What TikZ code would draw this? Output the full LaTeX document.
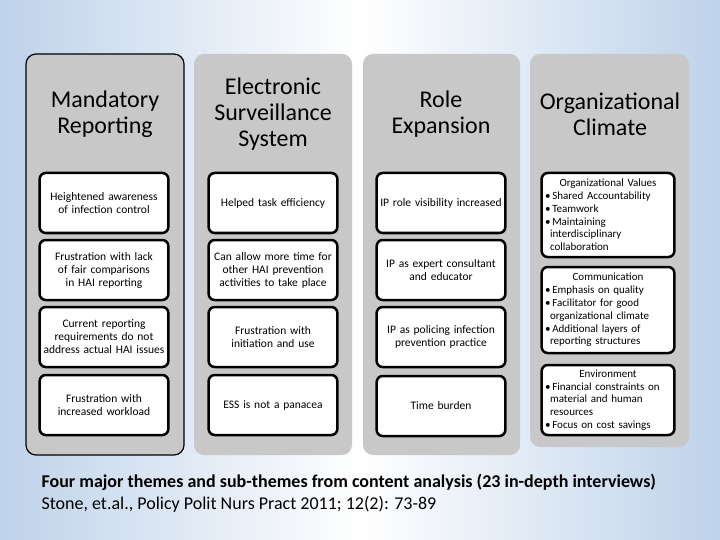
\documentclass[tikz,border=0pt]{standalone}
\usepackage{fontspec}
\usepackage[none]{hyphenat}
\setmainfont{Carlito}
\definecolor{bgblue}{RGB}{190,210,234}
\definecolor{colgray}{RGB}{200,200,200}
\begin{document}
\begin{tikzpicture}[x=1pt,y=-1pt,
    column/.style={fill=colgray, rounded corners=10pt},
    head/.style={align=center, font=\fontsize{24}{26}\selectfont},
    sub/.style={draw, line width=2.5pt, fill=white, rounded corners=6pt, minimum width=126pt, align=center, text width=122pt, font=\fontsize{11.5}{13}\selectfont},
    lst/.style={sub, align=left, text width=126pt, font=\fontsize{11}{12.8}\selectfont}]
    % Hintergrund
    \shade[left color=bgblue, right color=bgblue, middle color=white] (0,0) rectangle (720,540);
    \useasboundingbox (0,0) rectangle (720,540);

    % Spalten
    \draw[column, draw=black, line width=1.2pt] (26,54) rectangle (184,455);
    \fill[column] (194,54) rectangle (352,455);
    \fill[column] (363,54) rectangle (520,455);
    \fill[column] (530,54) rectangle (689,447);

    % Themen
    \node[head] (h1) at (105,114) {Mandatory\\Reporting};
    \node[head] (h2) at (273,114) {Electronic\\Surveillance\\System};
    \node[head] (h3) at (441,114) {Role\\Expansion};
    \node[head] (h4) at (610,114) {Organizational\\Climate};

    % Subthemen
    \node[sub, minimum height=60pt] (m1) at (104,203) {Heightened awareness of infection control};
    \node[sub, minimum height=60pt] (m2) at (104,270) {Frustration with lack of fair comparisons in HAI reporting};
    \node[sub, minimum height=60pt] (m3) at (104,337) {Current reporting requirements do not address actual HAI issues};
    \node[sub, minimum height=60pt] (m4) at (104,405) {Frustration with increased workload};

    \node[sub, minimum height=60pt] (e1) at (273,203) {Helped task efficiency};
    \node[sub, minimum height=60pt] (e2) at (273,270) {Can allow more time for other HAI prevention activities to take place};
    \node[sub, minimum height=60pt] (e3) at (273,337) {Frustration with initiation and use};
    \node[sub, minimum height=60pt] (e4) at (273,405) {ESS is not a panacea};

    \node[sub, minimum height=60pt] (r1) at (441,203) {IP role visibility increased};
    \node[sub, minimum height=60pt] (r2) at (441,270) {IP as expert consultant and educator};
    \node[sub, minimum height=60pt] (r3) at (441,337) {IP as policing infection prevention practice};
    \node[sub, minimum height=60pt] (r4) at (441,406) {Time burden};

    \node[lst, minimum height=84pt] (o1) at (608,215) {\makebox[\linewidth]{Organizational Values}\\
      \textbullet\,Shared Accountability\\\textbullet\,Teamwork\\\textbullet\,Maintaining\\\hspace*{5pt}interdisciplinary\\\hspace*{5pt}collaboration};
    \node[lst, minimum height=86pt] (o2) at (608,310) {\makebox[\linewidth]{Communication}\\
      \textbullet\,Emphasis on quality\\\textbullet\,Facilitator for good\\\hspace*{5pt}organizational climate\\\textbullet\,Additional layers of\\\hspace*{5pt}reporting structures};
    \node[lst, minimum height=70pt] (o3) at (608,400) {\makebox[\linewidth]{Environment}\\
      \textbullet\,Financial constraints on\\\hspace*{5pt}material and human\\\hspace*{5pt}resources\\\textbullet\,Focus on cost savings};

    % Bildunterschrift
    \node[anchor=west, font=\fontsize{18}{20}\selectfont\bfseries] (cap) at (38,482) {Four major themes and sub-themes from content analysis (23 in-depth interviews)};
    \node[anchor=west, font=\fontsize{18}{20}\selectfont] (src) at (38,504) {Stone, et.al., Policy Polit Nurs Pract 2011; 12(2): 73-89};
\end{tikzpicture}
\end{document}
